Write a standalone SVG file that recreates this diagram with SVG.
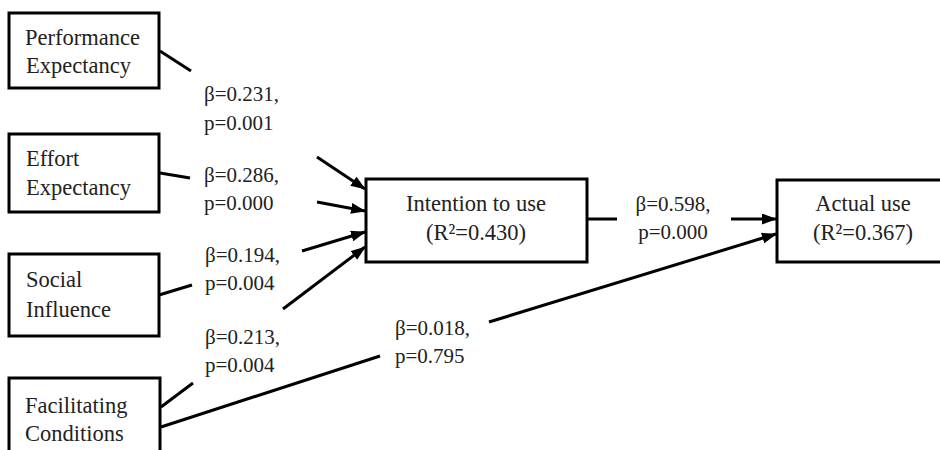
<svg xmlns="http://www.w3.org/2000/svg" width="940" height="450" viewBox="0 0 940 450">
<style>
.box{fill:#fff;stroke:#000;stroke-width:3}
.t{font-family:"Liberation Serif","Times New Roman",serif;font-size:22.5px;fill:#222}
.c{text-anchor:middle}
.lbl{font-family:"Liberation Serif","Times New Roman",serif;font-size:21px;fill:#222}
.ln{stroke:#000;stroke-width:3;fill:none}
.ar{marker-end:url(#ah)}
</style>
<defs>
<marker id="ah" markerUnits="userSpaceOnUse" markerWidth="15" markerHeight="11" refX="14" refY="5.5" orient="auto">
<path d="M0,0 L15,5.5 L0,11 Z" fill="#000"/>
</marker>
</defs>
<rect width="940" height="450" fill="#fff"/>
<g id="connectors">
<line class="ln" x1="160" y1="51" x2="191" y2="71"/>
<line class="ln ar" x1="317" y1="157" x2="365" y2="189"/>
<line class="ln" x1="160" y1="173" x2="190" y2="178"/>
<line class="ln ar" x1="317" y1="202" x2="365" y2="211"/>
<line class="ln" x1="159" y1="295" x2="192" y2="285"/>
<line class="ln ar" x1="302" y1="251" x2="365" y2="232"/>
<line class="ln" x1="161" y1="407" x2="193" y2="383"/>
<line class="ln ar" x1="283" y1="309" x2="365" y2="247"/>
<line class="ln" x1="161" y1="427" x2="380" y2="356"/>
<line class="ln ar" x1="489" y1="322" x2="776" y2="234"/>
<line class="ln" x1="587" y1="219" x2="617" y2="219"/>
<line class="ln ar" x1="731" y1="219" x2="776" y2="219"/>
<text class="lbl" x="204" y="101">β=0.231,</text>
<text class="lbl" x="204" y="130">p=0.001</text>
<text class="lbl" x="204" y="182">β=0.286,</text>
<text class="lbl" x="204" y="210">p=0.000</text>
<text class="lbl" x="205" y="262">β=0.194,</text>
<text class="lbl" x="205" y="290">p=0.004</text>
<text class="lbl" x="205" y="344">β=0.213,</text>
<text class="lbl" x="205" y="372">p=0.004</text>
<text class="lbl" x="395" y="335">β=0.018,</text>
<text class="lbl" x="395" y="363">p=0.795</text>
<text class="lbl c" x="673" y="211">β=0.598,</text>
<text class="lbl c" x="673" y="239">p=0.000</text>
</g>
<g id="performance">
<rect class="box" x="9" y="13" width="150" height="75"/>
<text class="t" x="25" y="45">Performance</text>
<text class="t" x="26" y="73">Expectancy</text>
</g>
<g id="effort">
<rect class="box" x="9" y="134" width="150" height="78"/>
<text class="t" x="26" y="166">Effort</text>
<text class="t" x="26" y="195">Expectancy</text>
</g>
<g id="social">
<rect class="box" x="9" y="254" width="150" height="82"/>
<text class="t" x="26" y="287">Social</text>
<text class="t" x="26" y="317">Influence</text>
</g>
<g id="facilitating">
<rect class="box" x="9" y="378" width="151" height="100"/>
<text class="t" x="25" y="413">Facilitating</text>
<text class="t" x="25" y="441">Conditions</text>
</g>
<g id="intention">
<rect class="box" x="366" y="179" width="221" height="83"/>
<text class="t c" x="476" y="211">Intention to use</text>
<text class="t c" x="476" y="240">(R²=0.430)</text>
</g>
<g id="actual">
<rect class="box" x="777" y="180" width="180" height="82"/>
<text class="t c" x="863" y="211">Actual use</text>
<text class="t c" x="863" y="240">(R²=0.367)</text>
</g>
</svg>
